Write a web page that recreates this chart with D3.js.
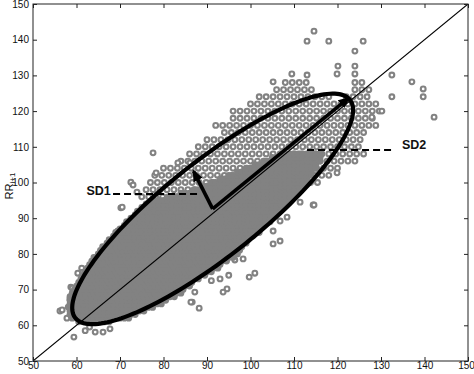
<!DOCTYPE html>
<html><head><meta charset="utf-8">
<script src="https://cdn.jsdelivr.net/npm/d3@7"></script>
<style>
html,body{margin:0;padding:0;background:#fff;}
svg{display:block;}
</style></head>
<body>
<svg id="chart" width="474" height="374"></svg>
<script>
// ---------- data ----------
const xTicks = [50,60,70,80,90,100,110,120,130,140,150];
const yTicks = [50,60,70,80,90,100,110,120,130,140,150];
const yLabelMain = "RR";
const yLabelSub = "i+1";

// dense core of the cloud: [RR_i+1 value, first RR_i, last RR_i] (step 1)
const coreRows = [
 [61,60.5,68],[62,59,72],[63,58.5,74],[64,58.5,76],[65,58.5,77.5],[66,58.5,79.5],[67,58.5,81],
 [68,58.5,82.5],[69,59,84],[70,59.5,85],[71,60,86],[72,60.5,87],[73,61,88.5],[74,61.5,90],
 [75,62,91],[76,62.5,92.5],[77,63,93.5],[78,63.5,95],[79,64,96],[80,65,97],[81,65.5,97.5],
 [82,66,98.5],[83,67,99.5],[84,67.5,100],[85,68.5,101],[86,69,102],[87,70,102.5],[88,71,103.5],
 [89,71.5,104.5],[90,72.5,105],[91,73.5,106],[92,74,106.5],[93,75,107.5],[94,76,108.5],
 [95,78,109],[96,81,110],[97,84,111],[98,87,111.5],[99,89,112],[100,91,113],
 [101,93,113.5],[102,95,114],[103,97,114.5],[104,99,115],[105,101,115.5],[106,103,116],
 [107,105,116],[108,107,116]
];
// looser part of the cloud (individual rings): [RR_i+1 value, first RR_i, last RR_i]
const sparseRows = [
 [128,108,114],[128,124,126],[126,106,114],[126,124,128],[124,102,118],[124,122,128],
 [122,100,130],[120,96,130],[118,96,128],[116,92,130],[114,94,126],[112,90,126],
 [110,88,126],[108,86,126],[106,84,124],[104,80,120],[102,78,118],[100,77,116],[98,76,90],
 [96,75,84]
];
// isolated points [RR_i, RR_i+1]
const outliers = [
 [114.6,142.4],[113.0,139.6],[118.0,139.6],[125.9,139.6],[124.0,136.8],[120.1,132.6],
 [124.0,132.6],[119.9,130.4],[113.0,130.1],[109.5,130.4],[124.0,130.4],[132.5,130.1],
 [137.1,128.2],[139.7,126.2],[139.7,124.0],[142.2,118.3],[130.2,120.0],[127.9,118.3],
 [132.5,124.0],[105.2,128.2],[119.9,102.7],[114.4,93.7],
 [77.6,108.3],[78.3,102.7],[72.5,100.1],[73.0,99.3],[73.9,97.3],[70.2,92.9],[83.3,105.5],
 [86.1,105.5],[70.5,93.1],[69.5,86.4],
 [56.2,64.0],[58.1,65.1],[58.5,67.4],[58.7,70.7],[60.3,74.6],[61.2,76.0],[60.1,62.3],
 [59.4,56.7],[64.3,58.1],[66.1,58.1],[67.7,59.0],[64.3,78.9],[67.0,80.5],[61.5,74.9],
 [59.0,70.4],[56.7,64.3],[57.8,62.0],[62,58.5],[63,59.5],
 [86.6,66.5],[87.2,69.3],[84.3,72.7],[111.4,94.5],[114.6,93.7],[108.4,90.3],[106.8,89.2],
 [105.2,86.4],[105.2,82.8],[106.8,83.6],[101.0,74.6],[99.7,73.5],[94.6,70.2],[93.7,69.3],
 [88.2,64.8],[86.3,66.5],[96.4,78.3],[98.3,78.6],[91,72.5],[93,73],[95,74]
];
// ellipse fit (centre, SD2 semi-axis, SD1 semi-axis) and annotation points
const ellipseCentre = [91.3, 92.6];
const sd2 = 44;
const sd1 = 12.2;
const sd1Tip = [86.9, 103.2];
const sd2Tip = [122.6, 123.7];
const sd1Dash = [[68.4,96.8],[88.4,96.8]];
const sd2Dash = [[113,109.1],[132.5,109.1]];
const labels = [{text:"SD1", at:[62.3,96.6]},{text:"SD2", at:[134.8,109.3]}];

// ---------- build points ----------
const corePts = [], loosePts = [];
coreRows.forEach(([y,x0,x1]) => { for (let x=x0; x<=x1+1e-9; x+=1) corePts.push([x,y]); });
sparseRows.forEach(([y,x0,x1]) => { for (let x=x0; x<=x1+1e-9; x+=1.6) loosePts.push([x,y]); });
outliers.forEach(p => loosePts.push(p));

// ---------- drawing ----------
const svg = d3.select("#chart");
const L=33, R=468, T=4, B=361;
const x = d3.scaleLinear().domain([50,150]).range([L,R]);
const y = d3.scaleLinear().domain([50,150]).range([B,T]);
const font = "'Liberation Sans Narrow','Liberation Sans',Arial,sans-serif";
const dotGray = "#828282";

const defs = svg.append("defs");
defs.append("clipPath").attr("id","clip").append("rect")
  .attr("x",L).attr("y",T).attr("width",R-L).attr("height",B-T);
defs.append("marker").attr("id","arrow").attr("markerUnits","userSpaceOnUse")
  .attr("viewBox","0 0 12 10").attr("refX",10).attr("refY",5)
  .attr("markerWidth",12).attr("markerHeight",10).attr("orient","auto")
  .append("path").attr("d","M0,0 L12,5 L0,10 Z").attr("fill","#000");

const plot = svg.append("g").attr("clip-path","url(#clip)");

plot.append("g").selectAll("circle").data(loosePts).join("circle")
  .attr("cx", d => x(d[0])).attr("cy", d => y(d[1])).attr("r", 2.4)
  .attr("fill","#fff").attr("stroke",dotGray).attr("stroke-width",2.1);
plot.append("g").selectAll("circle").data(corePts).join("circle")
  .attr("cx", d => x(d[0])).attr("cy", d => y(d[1])).attr("r", 3.4)
  .attr("fill",dotGray).attr("stroke","none");

// identity line
plot.append("line").attr("x1",x(50)).attr("y1",y(50)).attr("x2",x(150)).attr("y2",y(150))
  .attr("stroke","#000").attr("stroke-width",1.1);

// ellipse
const ang = Math.PI/4;
const ell = d3.range(0, 361, 2).map(deg => {
  const t = deg*Math.PI/180;
  const u = sd2*Math.cos(t), w = sd1*Math.sin(t);
  return [ellipseCentre[0] + u*Math.cos(ang) - w*Math.sin(ang),
          ellipseCentre[1] + u*Math.sin(ang) + w*Math.cos(ang)];
});
plot.append("path").datum(ell)
  .attr("d", d3.line().x(d=>x(d[0])).y(d=>y(d[1])).curve(d3.curveLinearClosed))
  .attr("fill","none").attr("stroke","#000").attr("stroke-width",4.2);

// arrows
[sd2Tip, sd1Tip].forEach(tip => {
  plot.append("line")
    .attr("x1",x(ellipseCentre[0])).attr("y1",y(ellipseCentre[1]))
    .attr("x2",x(tip[0])).attr("y2",y(tip[1]))
    .attr("stroke","#000").attr("stroke-width",3.6).attr("marker-end","url(#arrow)");
});

// dashed leaders
[sd1Dash, sd2Dash].forEach(seg => {
  plot.append("line").attr("x1",x(seg[0][0])).attr("y1",y(seg[0][1]))
    .attr("x2",x(seg[1][0])).attr("y2",y(seg[1][1]))
    .attr("stroke","#000").attr("stroke-width",2).attr("stroke-dasharray","7,4");
});

labels.forEach(l => {
  svg.append("text").attr("x",x(l.at[0])).attr("y",y(l.at[1]))
    .attr("font-family",font).attr("font-size",12.5).attr("font-weight","bold")
    .attr("fill","#111").text(l.text);
});

// axes box with inward ticks
const axisCol = "#222";
svg.append("rect").attr("x",L).attr("y",T).attr("width",R-L).attr("height",B-T)
  .attr("fill","none").attr("stroke",axisCol).attr("stroke-width",1);

const gx = svg.append("g").attr("transform",`translate(0,${B})`)
  .call(d3.axisBottom(x).tickValues(xTicks).tickSize(-4).tickPadding(1).tickFormat(d3.format("d")));
const gxt = svg.append("g").attr("transform",`translate(0,${T})`)
  .call(d3.axisTop(x).tickValues(xTicks).tickSize(-4).tickFormat(""));
const gy = svg.append("g").attr("transform",`translate(${L},0)`)
  .call(d3.axisLeft(y).tickValues(yTicks).tickSize(-4).tickPadding(4).tickFormat(d3.format("d")));
const gyr = svg.append("g").attr("transform",`translate(${R},0)`)
  .call(d3.axisRight(y).tickValues(yTicks).tickSize(-4).tickFormat(""));
[gx,gxt,gy,gyr].forEach(g => {
  g.select(".domain").remove();
  g.selectAll(".tick line").attr("stroke",axisCol);
  g.selectAll("text").attr("font-family",font).attr("font-size",10).attr("fill","#111");
});
gx.selectAll(".tick text").filter(d => d === xTicks[xTicks.length-1]).attr("dx", -2);

// y label
const yl = svg.append("text").attr("transform",`translate(13,${186}) rotate(-90)`)
  .attr("text-anchor","middle").attr("font-family",font).attr("font-size",11).attr("fill","#111");
yl.append("tspan").text(yLabelMain);
yl.append("tspan").attr("font-size",8).attr("dy",2).text(yLabelSub);
</script>
</body></html>
